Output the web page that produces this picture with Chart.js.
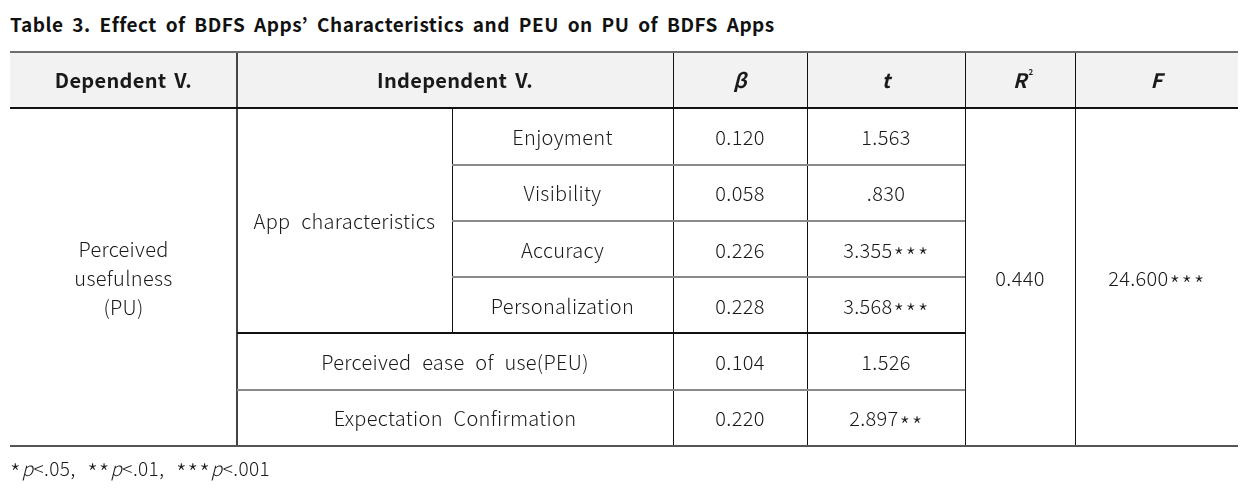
<!DOCTYPE html>
<html>
<head>
<meta charset="utf-8">
<script src="https://cdn.jsdelivr.net/npm/chart.js@4/dist/chart.umd.min.js"></script>
<style>
  html, body { margin: 0; padding: 0; background: #fff; }
  body { width: 1257px; height: 492px; position: relative; overflow: hidden;
         font-family: "Noto Sans CJK KR", "Noto Sans", sans-serif; color: #111; }
  #title { position: absolute; left: 10px; top: 10px; font-size: 19px; font-weight: bold;
           white-space: pre; letter-spacing: 0.5px; word-spacing: 4px; }
  #note { position: absolute; left: 10px; top: 448px; font-size: 19px; font-weight: 300;
          white-space: pre; letter-spacing: 0.4px; word-spacing: 7px; color: #1a1a1a; }
  #note .st { position: relative; top: 6px; font-size: 24px; letter-spacing: 1px; }
  #tbl { position: absolute; left: 0; top: 0; }
</style>
</head>
<body>
<div id="title">Table 3. Effect of BDFS Apps’ Characteristics and PEU on PU of BDFS Apps</div>
<canvas id="tbl" width="1257" height="492"></canvas>
<div id="note"><span class="st">*</span><i>p</i>&lt;.05, <span class="st">**</span><i>p</i>&lt;.01, <span class="st">***</span><i>p</i>&lt;.001</div>
<script>
// table content
const headers = ['Dependent V.', 'Independent V.', 'β', 't', 'R', 'F'];
const dependentVar = ['Perceived', 'usefulness', '(PU)'];
const groupLabel = 'App characteristics';
const predictors = ['Enjoyment', 'Visibility', 'Accuracy', 'Personalization',
                    'Perceived ease of use(PEU)', 'Expectation Confirmation'];
const betas = [0.120, 0.058, 0.226, 0.228, 0.104, 0.220];
const tValues = [1.563, 0.830, 3.355, 3.568, 1.526, 2.897];
const tStars = ['', '', '***', '***', '', '**'];
const rSquared = 0.440;
const fValue = 24.600;
const fStars = '***';

// layout (column edges in table units, row count)
const colEdges = [0, 227, 442, 663, 797, 955, 1065, 1228];
const rowCount = 7;

const FONT = '"Noto Sans CJK KR", "Noto Sans", sans-serif';
const fmtT = v => (v < 1 ? v.toFixed(3).replace(/^0/, '') : v.toFixed(3));

const tablePlugin = {
  id: 'tablePlugin',
  afterDraw(chart) {
    const { ctx, scales: { x, y } } = chart;
    const px = c => x.getPixelForValue(colEdges[c]);
    const py = r => y.getPixelForValue(r);
    const snap = (v, w) => (Math.round(w) % 2 ? Math.floor(v) + 0.5 : Math.round(v));

    ctx.save();
    // header background
    ctx.fillStyle = '#f2f2f2';
    ctx.fillRect(px(0), py(0), px(7) - px(0), py(1) - py(0));

    const hline = (r, c0, c1, color, w) => {
      const yy = snap(py(r), w);
      ctx.beginPath();
      ctx.strokeStyle = color; ctx.lineWidth = w;
      ctx.moveTo(px(c0), yy); ctx.lineTo(px(c1), yy); ctx.stroke();
    };
    const vline = (c, r0, r1, color, w) => {
      const xx = snap(px(c), w);
      ctx.beginPath();
      ctx.strokeStyle = color; ctx.lineWidth = w;
      ctx.moveTo(xx, py(r0)); ctx.lineTo(xx, py(r1)); ctx.stroke();
    };

    vline(1, 0, 7, '#444', 2);
    vline(2, 1, 5, '#111', 1);
    vline(3, 0, 7, '#111', 1);
    vline(4, 0, 7, '#111', 1);
    vline(5, 0, 7, '#111', 1);
    vline(6, 0, 7, '#111', 1);

    hline(0, 0, 7, '#6e6e6e', 2);
    hline(1, 0, 7, '#111', 2);
    [2, 3, 4].forEach(r => hline(r, 2, 5, '#8a8a8a', 2));
    hline(5, 1, 5, '#111', 2);
    hline(6, 1, 5, '#8a8a8a', 2);
    hline(7, 0, 7, '#555', 2);

    const setFont = (font, ws = '6px') => {
      ctx.font = font;
      ctx.letterSpacing = '0.3px';
      ctx.wordSpacing = ws;
      ctx.fillStyle = '#1a1a1a';
      ctx.textBaseline = 'middle';
    };
    const text = (str, c0, c1, r0, r1, font, dy = 0, ws) => {
      setFont(font, ws);
      ctx.textAlign = 'center';
      ctx.fillText(str, (px(c0) + px(c1)) / 2, (py(r0) + py(r1)) / 2 + dy);
    };
    // number followed by significance stars, stars sit at mid height
    const starFont = '300 24px ' + FONT;
    const starred = (num, stars, c0, c1, r0, r1, font) => {
      setFont(font);
      ctx.textAlign = 'left';
      const wn = ctx.measureText(num).width;
      ctx.font = starFont;
      ctx.letterSpacing = '1.5px';
      const ws = stars ? ctx.measureText(stars).width : 0;
      const x0 = (px(c0) + px(c1)) / 2 - (wn + ws) / 2;
      const yc = (py(r0) + py(r1)) / 2 + 1;
      ctx.font = font;
      ctx.letterSpacing = '0.3px';
      ctx.fillText(num, x0, yc);
      if (stars) {
        ctx.font = starFont;
        ctx.letterSpacing = '1.5px';
        ctx.fillText(stars, x0 + wn + 1, yc + 7);
      }
    };

    const bodyFont = '300 20px ' + FONT;
    const headFont = 'bold 20px ' + FONT;
    const headItalic = 'italic bold 20px ' + FONT;

    // header
    text(headers[0], 0, 1, 0, 1, headFont, 0, '3px');
    text(headers[1], 1, 3, 0, 1, headFont, 0, '3px');
    text(headers[2], 3, 4, 0, 1, headItalic);
    text(headers[3], 4, 5, 0, 1, headItalic);
    text(headers[4], 5, 6, 0, 1, headItalic, 0);
    ctx.font = 'bold 8px ' + FONT;
    ctx.textAlign = 'center';
    ctx.fillText('2', (px(5) + px(6)) / 2 + 11, (py(0) + py(1)) / 2 - 8);
    text(headers[5], 6, 7, 0, 1, headItalic);

    // dependent variable (spans all body rows)
    dependentVar.forEach((s, i) => text(s, 0, 1, 1, 7, bodyFont, (i - 1) * 29 + 1));
    // group label over first four predictors
    text(groupLabel, 1, 2, 1, 5, bodyFont, 1);

    predictors.forEach((p, i) => {
      const r = i + 1;
      if (i < 4) text(p, 2, 3, r, r + 1, bodyFont, 1);
      else text(p, 1, 3, r, r + 1, bodyFont, 1);
      text(betas[i].toFixed(3), 3, 4, r, r + 1, bodyFont, 1);
      starred(fmtT(tValues[i]), tStars[i], 4, 5, r, r + 1, bodyFont);
    });

    text(rSquared.toFixed(3), 5, 6, 1, 7, bodyFont, 1);
    starred(fValue.toFixed(3), fStars, 6, 7, 1, 7, bodyFont);
    ctx.restore();
  }
};

new Chart(document.getElementById('tbl'), {
  type: 'scatter',
  data: { datasets: [] },
  options: {
    responsive: false,
    animation: false,
    events: [],
    layout: { padding: { left: 10, right: 19, top: 52, bottom: 46 } },
    scales: {
      x: { type: 'linear', display: false, min: colEdges[0], max: colEdges[colEdges.length - 1] },
      y: { type: 'linear', display: false, min: 0, max: rowCount, reverse: true }
    },
    plugins: { legend: { display: false }, tooltip: { enabled: false } }
  },
  plugins: [tablePlugin]
});
</script>
</body>
</html>
